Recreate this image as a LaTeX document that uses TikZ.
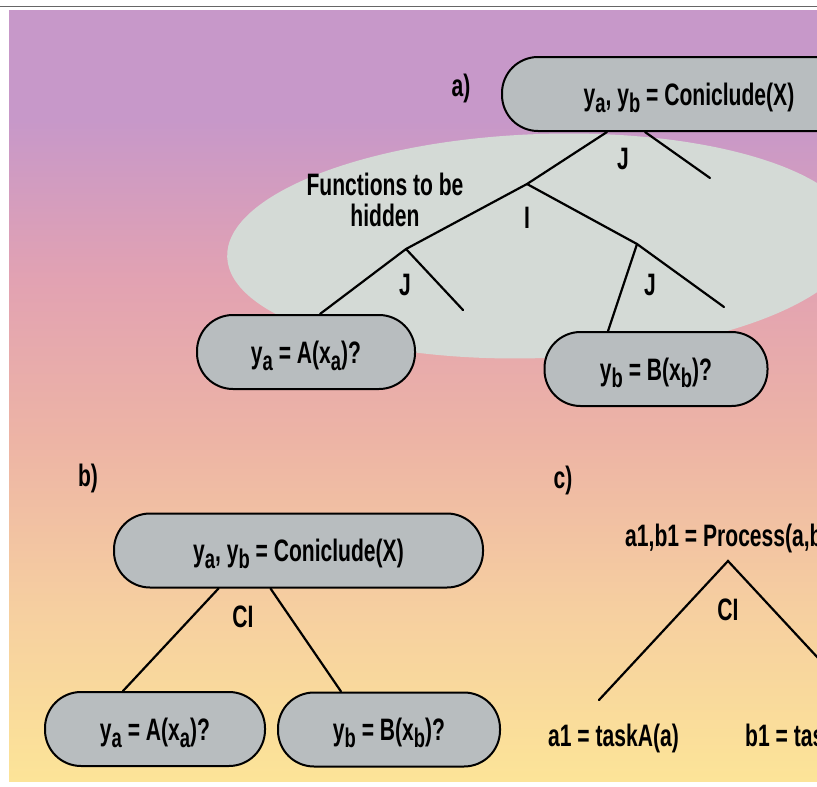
\documentclass[tikz,border=0pt]{standalone}
\usepackage{fontspec}
\setmainfont{Liberation Sans}[FakeStretch=0.68]
\usetikzlibrary{calc}
\definecolor{bgA}{RGB}{199,152,201}
\definecolor{bgB}{RGB}{226,162,178}
\definecolor{bgC}{RGB}{237,180,165}
\definecolor{bgD}{RGB}{246,207,160}
\definecolor{bgE}{RGB}{252,228,152}
\definecolor{hidefill}{RGB}{212,218,214}
\definecolor{nodefill}{RGB}{184,189,191}
\newcommand\sbx[1]{\raisebox{-7pt}{\fontsize{27}{27}\selectfont #1}}
\begin{document}
\begin{tikzpicture}[x=1pt,y=-1pt,
  txt/.style={font=\fontsize{31}{34}\selectfont\bfseries, inner sep=0pt},
  pill/.style={txt, draw=black, line width=2pt, fill=nodefill,
    rounded corners=36pt, minimum height=74pt, text height=22pt, text depth=0pt},
  conn/.style={line width=2.2pt, line cap=round}]
\useasboundingbox (0,0) rectangle (817,787);
\clip (0,0) rectangle (817,787);
\fill[white] (0,0) rectangle (817,787);
% background gradient
\shade[top color=bgA, bottom color=bgA] (9,10) rectangle (817,120);
\shade[top color=bgA, bottom color=bgB] (9,120) rectangle (817,280);
\shade[top color=bgB, bottom color=bgC] (9,280) rectangle (817,440);
\shade[top color=bgC, bottom color=bgD] (9,440) rectangle (817,610);
\shade[top color=bgD, bottom color=bgE] (9,610) rectangle (817,781);
\draw[black!60, line width=1pt] (0,6) -- (817,6);
% hidden-functions region
\fill[hidefill, rotate around={2:(542,246)}] (542,246) ellipse [x radius=315pt, y radius=112pt];
% panel a
\node[txt] (la) at (461,88) {a)};
\node[pill, minimum width=374pt] (ta) at (689,94) {y\sbx{a}, y\sbx{b} = Coniclude(X)};
\node[pill, minimum width=218pt] (aa) at (306,352) {y\sbx{a} = A(x\sbx{a})?};
\node[pill, minimum width=223pt] (ab) at (656,369) {y\sbx{b} = B(x\sbx{b})?};
\node[txt, align=center] (fh) at (385,200) {Functions to be\\[-3pt]hidden};
\coordinate (I) at (527,184);
\coordinate (JL) at (406,249);
\coordinate (JR) at (637,244);
\coordinate (eT) at (710,178);
\coordinate (eL) at (463,310);
\coordinate (eR) at (724,307);
\draw[conn] (ta.south) ++(-82,0) -- (I);
\draw[conn] (ta.south) ++(-44,0) -- (eT);
\draw[conn] (I) -- (JL) -- ($(aa.north)+(14,0)$);
\draw[conn] (JL) -- (eL);
\draw[conn] (I) -- (JR) -- (eR);
\draw[conn] (JR) -- ($(ab.north)+(-48,0)$);
\node[txt] (lJ1) at (623,159) {J};
\node[txt] (lI) at (527,218) {I};
\node[txt] (lJ2) at (405,285) {J};
\node[txt] (lJ3) at (650,285) {J};
% panel b
\node[txt] (lb) at (88,478) {b)};
\node[pill, minimum width=369pt] (tb) at (298.5,550.5) {y\sbx{a}, y\sbx{b} = Coniclude(X)};
\node[pill, minimum width=220pt] (ba) at (155,729) {y\sbx{a} = A(x\sbx{a})?};
\node[pill, minimum width=222pt] (bb) at (389,729.5) {y\sbx{b} = B(x\sbx{b})?};
\draw[conn] ($(tb.south)+(-80,0)$) -- ($(ba.north)+(-32,0)$);
\draw[conn] ($(tb.south)+(-28,0)$) -- ($(bb.north)+(-48,0)$);
\node[txt] (lCIb) at (243,617) {CI};
% panel c
\node[txt] (lc) at (563,480) {c)};
\node[txt, anchor=west] (cp) at (625,538) {a1,b1 = Process(a,b)};
\node[txt, anchor=west] (ca) at (548,738) {a1 = taskA(a)};
\node[txt, anchor=west] (cb) at (745,738) {b1 = taskB(b)};
\coordinate (apex) at (728,561);
\coordinate (cl) at (599,700);
\coordinate (cr) at (857,700);
\draw[conn, line join=miter] (cl) -- (apex) -- (cr);
\node[txt] (lCIc) at (728,610) {CI};
\end{tikzpicture}
\end{document}
